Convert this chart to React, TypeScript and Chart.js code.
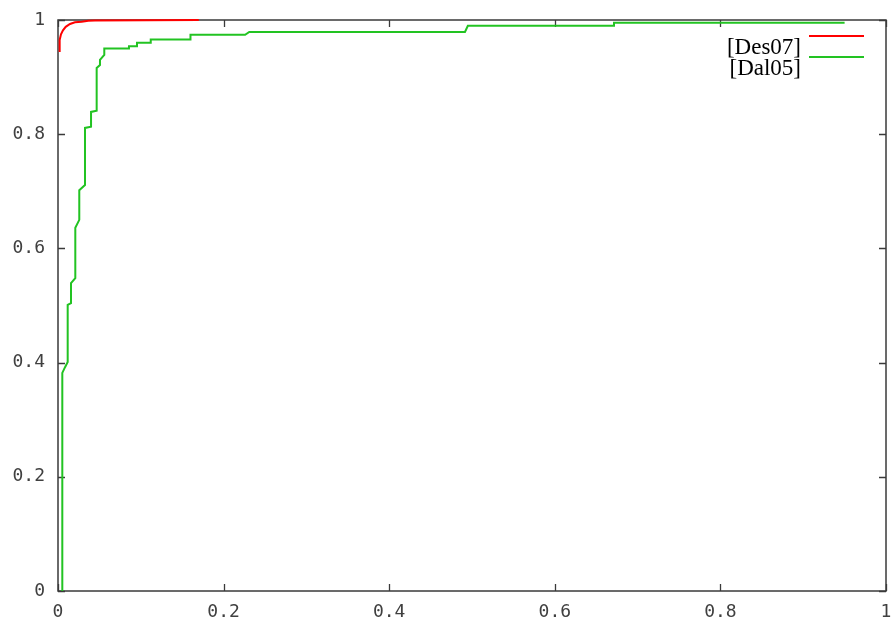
import React, { useEffect, useRef } from "react";
import { Chart, registerables } from "chart.js";

Chart.register(...registerables);

// ---- data ----
const seriesNames = ["[Des07]", "[Dal05]"];

// [Des07] ROC curve (false positive rate -> true positive rate)
const des07FPR = [0.002, 0.002, 0.0036, 0.006, 0.0093, 0.0145, 0.0205, 0.0286, 0.0366, 0.0447, 0.17];
const des07TPR = [0.944, 0.965, 0.975, 0.982, 0.988, 0.993, 0.996, 0.997, 0.9985, 0.999, 1.0];

// [Dal05] ROC curve
const dal05FPR = [
  0.0052, 0.0052, 0.0085, 0.0117, 0.0117, 0.0157, 0.0157, 0.0209, 0.0209, 0.0257,
  0.0257, 0.0326, 0.0326, 0.0399, 0.0399, 0.0467, 0.0467, 0.0507, 0.0507, 0.0559,
  0.0559, 0.0857, 0.0857, 0.0954, 0.0954, 0.112, 0.112, 0.16, 0.16, 0.226,
  0.231, 0.4915, 0.495, 0.6715, 0.6715, 0.95,
];
const dal05TPR = [
  0, 0.382, 0.392, 0.401, 0.501, 0.504, 0.539, 0.548, 0.636, 0.65,
  0.702, 0.711, 0.811, 0.813, 0.839, 0.841, 0.916, 0.921, 0.93, 0.939,
  0.95, 0.95, 0.954, 0.954, 0.96, 0.96, 0.966, 0.966, 0.974, 0.974,
  0.979, 0.979, 0.99, 0.99, 0.995, 0.995,
];

const xTickValues = [0, 0.2, 0.4, 0.6, 0.8, 1];
const xTickLabels = ["0", "0.2", "0.4", "0.6", "0.8", "1"];
const yTickValues = [0, 0.2, 0.4, 0.6, 0.8, 1];
const yTickLabels = ["0", "0.2", "0.4", "0.6", "0.8", "1"];

// ---- styles ----
const RED = "#ff0000";
const GREEN = "#22c322";
const FRAME = "#3a3a3a";
const TICK_FONT = { family: "'DejaVu Sans Mono', monospace", size: 18 };
const TICK_COLOR = "#404040";
const LINE_W = 2;

const toPoints = (xs: number[], ys: number[]) => xs.map((x, i) => ({ x, y: ys[i] }));

const gnuplotFrame = {
  id: "gnuplotFrame",
  beforeDatasetsDraw(chart: any) {
    const { ctx, chartArea: a, scales } = chart;
    ctx.save();
    ctx.strokeStyle = FRAME;
    ctx.lineWidth = 1.5;
    ctx.strokeRect(a.left, a.top, a.right - a.left, a.bottom - a.top);
    ctx.lineWidth = 1.3;
    const tl = 7;
    ctx.beginPath();
    for (const v of xTickValues) {
      const px = Math.round(scales.x.getPixelForValue(v)) + 0.5;
      ctx.moveTo(px, a.bottom);
      ctx.lineTo(px, a.bottom - tl);
      ctx.moveTo(px, a.top);
      ctx.lineTo(px, a.top + tl);
    }
    for (const v of yTickValues) {
      const py = Math.round(scales.y.getPixelForValue(v)) + 0.5;
      ctx.moveTo(a.left, py);
      ctx.lineTo(a.left + tl, py);
      ctx.moveTo(a.right, py);
      ctx.lineTo(a.right - tl, py);
    }
    ctx.stroke();
    ctx.restore();
  },
  afterDatasetsDraw(chart: any) {
    const { ctx, chartArea: a } = chart;
    ctx.save();
    ctx.font = "23px 'Liberation Serif', 'Times New Roman', serif";
    ctx.textAlign = "right";
    ctx.textBaseline = "alphabetic";
    chart.data.datasets.forEach((ds: any, i: number) => {
      const lineY = a.top + 16 + i * 21;
      const textY = a.top + 34 + i * 21;
      ctx.fillStyle = "#000";
      ctx.fillText(ds.label, a.right - 85, textY);
      ctx.strokeStyle = ds.borderColor;
      ctx.lineWidth = LINE_W;
      ctx.beginPath();
      ctx.moveTo(a.right - 77, lineY);
      ctx.lineTo(a.right - 22, lineY);
      ctx.stroke();
    });
    ctx.restore();
  },
};

export default function App() {
  const canvasRef = useRef<HTMLCanvasElement | null>(null);

  useEffect(() => {
    const canvas = canvasRef.current;
    if (!canvas) return;
    const chart = new Chart(canvas, {
      type: "scatter",
      data: {
        datasets: [
          {
            label: seriesNames[0],
            data: toPoints(des07FPR, des07TPR),
            showLine: true,
            borderColor: RED,
            backgroundColor: RED,
            borderWidth: LINE_W,
            pointRadius: 0,
            tension: 0,
            fill: false,
            clip: 3,
          },
          {
            label: seriesNames[1],
            data: toPoints(dal05FPR, dal05TPR),
            showLine: true,
            borderColor: GREEN,
            backgroundColor: GREEN,
            borderWidth: LINE_W,
            pointRadius: 0,
            tension: 0,
            fill: false,
            clip: 3,
          },
        ],
      },
      options: {
        animation: false,
        responsive: false,
        devicePixelRatio: 1,
        layout: { padding: { top: 20, right: 5, left: 0, bottom: 0 } },
        plugins: { legend: { display: false }, tooltip: { enabled: false } },
        scales: {
          x: {
            type: "linear",
            min: 0,
            max: 1,
            grid: { display: false, drawTicks: false },
            border: { display: false },
            afterBuildTicks: (s: any) => {
              s.ticks = xTickValues.map((v) => ({ value: v }));
            },
            afterFit: (s: any) => {
              s.height = 26;
              s.paddingLeft = 0;
              s.paddingRight = 0;
            },
            ticks: {
              padding: 11,
              autoSkip: false,
              maxRotation: 0,
              font: TICK_FONT,
              color: TICK_COLOR,
              callback: (_v: any, i: number) => xTickLabels[i],
            },
          },
          y: {
            type: "linear",
            min: 0,
            max: 1,
            grid: { display: false, drawTicks: false },
            border: { display: false },
            afterBuildTicks: (s: any) => {
              s.ticks = yTickValues.map((v) => ({ value: v }));
            },
            afterFit: (s: any) => {
              s.width = 58;
              s.paddingTop = 0;
              s.paddingBottom = 0;
            },
            ticks: {
              padding: 13,
              autoSkip: false,
              font: TICK_FONT,
              color: TICK_COLOR,
              callback: (_v: any, i: number) => yTickLabels[i],
            },
          },
        },
      },
      plugins: [gnuplotFrame],
    });
    return () => chart.destroy();
  }, []);

  return (
    <div style={{ position: "fixed", left: 0, top: 0, width: 891, height: 617, background: "#fff" }}>
      <canvas ref={canvasRef} width={891} height={617} style={{ display: "block" }} />
    </div>
  );
}
